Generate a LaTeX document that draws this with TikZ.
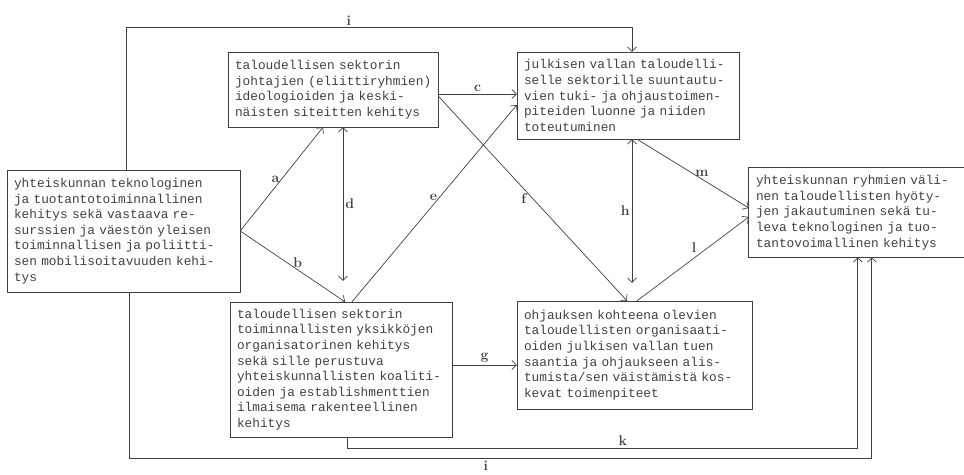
\documentclass[tikz,border=0pt]{standalone}
\usepackage{fontspec}
\setmonofont{Liberation Mono}
\usetikzlibrary{arrows.meta, calc}
\definecolor{tinta}{gray}{0.25}

\begin{document}
\begin{tikzpicture}[x=1pt, y=-1pt, >={Straight Barb[length=4.5pt,width=9pt]},
  kehys/.style={draw=tinta, text=tinta, align=left, inner xsep=7pt, inner ysep=0pt,
    font=\ttfamily\fontsize{12.8}{15.6}\selectfont},
  nuoli/.style={draw=tinta, line width=0.7pt},
  kirjain/.style={text=tinta, font=\bfseries\fontsize{14}{16}\selectfont, inner sep=2pt}]

\useasboundingbox (0,0) rectangle (964,474);

% laatikot
\node[kehys, minimum width=233pt, minimum height=122pt, text width=219pt] (tekno) at (123.5,231)
  {yhteiskunnan teknologinen\\ja tuotantotoiminnallinen\\kehitys sekä vastaava re-\\surssien ja väestön yleisen\\toiminnallisen ja poliitti-\\sen mobilisoitavuuden kehi-\\tys};
\node[kehys, minimum width=210pt, minimum height=75pt, text width=196pt] (ideo) at (333,89.5)
  {taloudellisen sektorin\\johtajien~(eliittiryhmien)\\ideologioiden ja keski-\\näisten siteitten kehitys};
\node[kehys, minimum width=222pt, minimum height=135pt, text width=208pt] (org) at (341,369.5)
  {taloudellisen sektorin\\toiminnallisten yksikköjen\\organisatorinen kehitys\\sekä sille perustuva\\yhteiskunnallisten koaliti-\\oiden ja establishmenttien\\ilmaisema rakenteellinen\\kehitys};
\node[kehys, minimum width=222pt, minimum height=87pt, text width=208pt] (tuki) at (628,95.5)
  {julkisen vallan taloudelli-\\selle sektorille suuntautu-\\vien tuki- ja ohjaustoimen-\\piteiden luonne ja niiden\\toteutuminen};
\node[kehys, minimum width=235pt, minimum height=108pt, text width=221pt] (ohjaus) at (634.5,355)
  {ohjauksen kohteena olevien\\taloudellisten organisaati-\\oiden julkisen vallan tuen\\saantia ja ohjaukseen alis-\\tumista/sen väistämistä kos-\\kevat toimenpiteet};
\node[kehys, draw=none, minimum width=215pt, minimum height=89pt, text width=201pt] (jako) at (856.5,212.5)
  {yhteiskunnan ryhmien väli-\\nen taloudellisten hyöty-\\jen jakautuminen sekä tu-\\leva teknologinen ja tuo-\\tantovoimallinen kehitys};
\draw[nuoli] (jako.north east) -- (jako.north west) -- (jako.south west) -- (jako.south east); % oikea reuna jää kuvan ulkopuolelle

% nuolet
\draw[nuoli, ->] (tekno.east) -- node[kirjain, pos=0.5, left]{a} ([xshift=-10pt]ideo.south);
\draw[nuoli, ->] (tekno.east) -- node[kirjain, pos=0.55, above]{b} ([xshift=4pt]org.north);
\draw[nuoli, ->] ([yshift=-4.5pt]ideo.east) -- node[kirjain, above]{c} ([yshift=-4.5pt]ideo.east -| tuki.west);
\draw[nuoli, <->] ([xshift=10pt]ideo.south) -- node[kirjain, right]{d} ([xshift=2pt, yshift=21pt]org.north);
\draw[nuoli, ->] ([xshift=11pt]org.north) -- node[kirjain, pos=0.53, left]{e} ([yshift=-9.5pt]tuki.west);
\draw[nuoli, ->] ([yshift=-6.5pt]ideo.east) -- node[kirjain, pos=0.5, left=4pt]{f} ([xshift=-7.5pt]ohjaus.north);
\draw[nuoli, ->] ([yshift=4.5pt]org.east) -- node[kirjain, above]{g} ([yshift=4.5pt]org.east -| ohjaus.west);
\draw[nuoli, <->] ([xshift=4pt]tuki.south) -- node[kirjain, left]{h} ([xshift=-2.5pt, yshift=18pt]ohjaus.north);
\draw[nuoli, ->] ([xshift=3pt]tekno.north) -- ++(0,-142) -| node[kirjain, pos=0.22, above]{i} ([xshift=4pt]tuki.north);
\draw[nuoli, ->] ([xshift=6pt]tekno.south) -- ++(0,166) -| node[kirjain, pos=0.24, below]{i} ([xshift=123pt]jako.south west);
\draw[nuoli, ->] ([xshift=6pt]org.south) -- ++(0,11) -| node[kirjain, pos=0.27, above]{k} ([xshift=109pt]jako.south west);
\draw[nuoli, ->] ([xshift=2.5pt]ohjaus.north) -- node[kirjain, pos=0.55, above left]{l} ([yshift=-4.5pt]jako.west);
\draw[nuoli, ->] ([xshift=9pt]tuki.south) -- node[kirjain, pos=0.58, above]{m} ([yshift=4.5pt]jako.west);

\end{tikzpicture}
\end{document}
